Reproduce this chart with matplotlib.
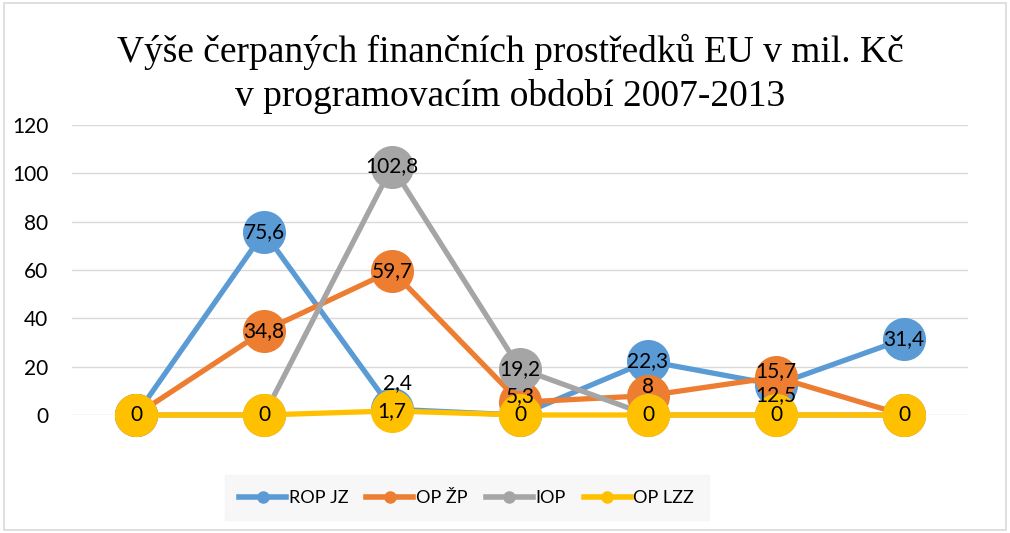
import matplotlib.pyplot as plt
from matplotlib.lines import Line2D
from matplotlib.patches import Rectangle

# data (7 unnamed categories)
positions = [0, 1, 2, 3, 4, 5, 6]
rop_jz = [0, 75.6, 2.4, 0, 22.3, 12.5, 31.4]
op_zp = [0, 34.8, 59.7, 5.3, 8, 15.7, 0]
iop = [0, 0, 102.8, 19.2, 0, 0, 0]
op_lzz = [0, 0, 1.7, 0, 0, 0, 0]
series_names = ["ROP JZ", "OP ŽP", "IOP", "OP LZZ"]
colors = ["#5B9BD5", "#ED7D31", "#A5A5A5", "#FFC000"]

# label nudges in points (index -> (dx, dy))
nudges = {
    "ROP JZ": {2: (4, 19), 5: (0, -7.5)},
    "OP ŽP": {3: (0, 4.5), 4: (0, 6), 5: (0, 4.5)},
}

plt.rcParams['font.family'] = ['Lato', 'DejaVu Sans']

fig = plt.figure(figsize=(10.1, 5.33), dpi=100)
fig.patches.append(Rectangle((0.004, 0.006), 0.992, 0.988, transform=fig.transFigure,
                             fill=False, edgecolor="#d9d9d9", linewidth=1.2))

ax = fig.add_axes([72 / 1010, (533 - 415) / 533, 896 / 1010, 290 / 533])

all_series = [rop_jz, op_zp, iop, op_lzz]
for name, vals, col in zip(series_names, all_series, colors):
    ax.plot(positions, vals, color=col, lw=3.8, marker="o", markersize=31,
            markeredgewidth=0, clip_on=False, solid_capstyle="round", zorder=3)

def fmt(v):
    s = f"{v:g}"
    return s.replace(".", ",")

for name, vals in zip(series_names, all_series):
    for i, v in zip(positions, vals):
        if v == 0 and name != "OP LZZ":
            continue
        dx, dy = nudges.get(name, {}).get(i, (0, 0))
        ax.annotate(fmt(v), (i, v), xytext=(dx, dy), textcoords="offset points",
                    ha="center", va="center", fontsize=15, color="black", zorder=5,
                    annotation_clip=False)

ax.set_xlim(-0.5, 6.5)
ax.set_ylim(0, 120)
ax.set_yticks(range(0, 121, 20))
ax.grid(axis="y", color="#d9d9d9", lw=1)
ax.set_axisbelow(True)
ax.set_xticks([])
for sp in ax.spines.values():
    sp.set_visible(False)
ax.tick_params(axis="y", length=0, pad=17, labelsize=15)

fig.text(0.505, 0.862, "Výše čerpaných finančních prostředků EU v mil. Kč\nv programovacím období 2007-2013",
         ha="center", va="center", fontsize=27, family="Liberation Serif", linespacing=1.33)

handles = [Line2D([], [], color=c, lw=4, marker="o", markersize=8) for c in colors]
leg = fig.legend(handles, series_names, loc="center", bbox_to_anchor=(0.462, 0.066),
                 ncol=4, frameon=True, fontsize=13, handlelength=2.6, handletextpad=0.15,
                 columnspacing=1.0, borderpad=0.5)
leg.get_frame().set_facecolor("#f5f5f5")
leg.get_frame().set_edgecolor("#f5f5f5")
leg.get_frame().set_boxstyle("square")

fig.savefig("out.png", dpi=100)
